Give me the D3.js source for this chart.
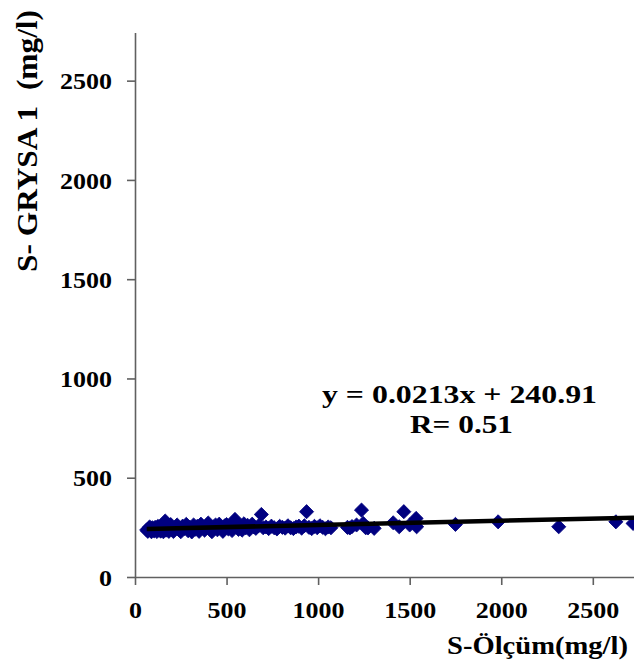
<!DOCTYPE html>
<html>
<head>
<meta charset="utf-8">
<script src="https://cdn.jsdelivr.net/npm/d3@7"></script>
<style>
  body { margin: 0; background: #fff; }
</style>
</head>
<body>
<div id="chart"></div>
<script>
var svgWidth = 634;
var svgHeight = 671;

// measured values (mg/l)
var measX = [64, 70, 75, 80, 85, 90, 95, 100, 105, 110, 115, 120, 125, 130, 135, 140, 145, 150, 155, 160,
  165, 170, 175, 180, 185, 190, 195, 200, 210, 220, 230, 240, 250, 260, 270, 280, 290, 300, 310, 320,
  330, 340, 350, 360, 370, 380, 390, 400, 410, 420, 430, 440, 450, 460, 470, 480, 490, 500, 510, 520,
  530, 546, 555, 565, 575, 585, 595, 605, 615, 625, 640, 650, 660, 675, 690, 700, 715, 730, 745, 760,
  775, 790, 805, 820, 835, 850, 865, 880, 895, 910, 925, 937, 950, 965, 980, 995, 1010, 1025, 1040, 1055,
  1070, 1160, 1173, 1185, 1210, 1237, 1246, 1260, 1272, 1306, 1410, 1443, 1468, 1500, 1535, 1538, 1750, 1983, 2314, 2626,
  2720];
// GRYSA 1 model values (mg/l)
var modelY = [237, 230, 245, 252, 235, 228, 248, 240, 232, 250, 243, 229, 255, 238, 246, 231, 252, 240, 228, 258,
  282, 236, 262, 245, 230, 255, 264, 240, 229, 250, 262, 238, 228, 256, 245, 265, 233, 250, 227, 262,
  242, 255, 230, 266, 248, 236, 258, 272, 240, 228, 252, 262, 238, 266, 247, 230, 258, 264, 242, 250,
  234, 290, 262, 240, 252, 236, 268, 248, 260, 238, 266, 252, 245, 258, 315, 248, 252, 244, 256, 248,
  242, 255, 250, 246, 258, 248, 244, 252, 256, 246, 258, 329, 250, 244, 255, 248, 258, 250, 243, 252,
  248, 250, 247, 254, 262, 337, 270, 248, 247, 245, 273, 253, 329, 262, 295, 253, 265, 278, 253, 278,
  270];

var tickValues = [0, 500, 1000, 1500, 2000, 2500];
var slope = 0.0213;
var intercept = 240.91;
var equationText = "y = 0.0213x + 240.91";
var rText = "R= 0.51";
var xTitle = "S-Ölçüm(mg/l)";
var yTitle = "S- GRYSA 1  (mg/l)";

var serif = "'Liberation Serif', 'Times New Roman', serif";

var svg = d3.select("#chart")
  .append("svg")
  .attr("width", svgWidth)
  .attr("height", svgHeight);

var xScale = d3.scaleLinear().domain([0, 2725]).range([135, 634]);
var yScale = d3.scaleLinear().domain([0, 2740]).range([577, 33]);

// axes
var yAxis = svg.append("g")
  .attr("transform", "translate(135,0)")
  .call(d3.axisLeft(yScale).tickValues(tickValues).tickFormat(d3.format("d"))
    .tickSize(8).tickSizeOuter(0).tickPadding(15));

var xAxis = svg.append("g")
  .attr("transform", "translate(0,577)")
  .call(d3.axisBottom(xScale).tickValues(tickValues).tickFormat(d3.format("d"))
    .tickSize(8).tickSizeOuter(0));

[yAxis, xAxis].forEach(function(ax) {
  ax.selectAll("path, line").attr("stroke", "#606060").attr("stroke-width", 1.6);
  ax.selectAll("text")
    .style("font-family", serif)
    .style("font-weight", "bold")
    .style("font-size", "24px")
    .attr("fill", "#000")
    .attr("textLength", d => String(d).length * 13)
    .attr("lengthAdjust", "spacingAndGlyphs");
});
yAxis.select(".domain").attr("d", "M0.5,577V33");
yAxis.selectAll("text").attr("dy", "0.34em");
xAxis.selectAll("text").attr("y", 25).attr("dy", "0.68em");

// points
var diamond = d3.symbol().type(d3.symbolSquare).size(100);
svg.append("g")
  .selectAll("path")
  .data(measX)
  .enter()
  .append("path")
  .attr("d", diamond)
  .attr("transform", (d, i) => `translate(${xScale(d)},${yScale(modelY[i])}) rotate(45)`)
  .attr("fill", "#000080")
  .attr("stroke", "#000080")
  .attr("stroke-width", 0.8);

// trend line
var lineX = [64, 2725];
svg.append("path")
  .datum(lineX)
  .attr("d", d3.line().x(d => xScale(d)).y(d => yScale(slope * d + intercept)))
  .attr("stroke", "#000")
  .attr("stroke-width", 4.5)
  .attr("fill", "none");

function label(sel, size, len) {
  return sel.style("font-family", serif)
    .style("font-weight", "bold")
    .style("font-size", size + "px")
    .style("white-space", "pre")
    .attr("fill", "#000")
    .attr("textLength", len)
    .attr("lengthAdjust", "spacingAndGlyphs");
}

// equation
label(svg.append("text").attr("x", 322).attr("y", 403), 26, 275).text(equationText);
label(svg.append("text").attr("x", 410).attr("y", 433), 26, 103).text(rText);

// axis titles
label(svg.append("text").attr("x", 447).attr("y", 654), 25, 181).text(xTitle);

label(svg.append("g")
  .attr("transform", "translate(37,141) scale(1.2,1) rotate(-90)")
  .append("text")
  .attr("text-anchor", "middle"), 25, 262)
  .text(yTitle);
</script>
</body>
</html>
